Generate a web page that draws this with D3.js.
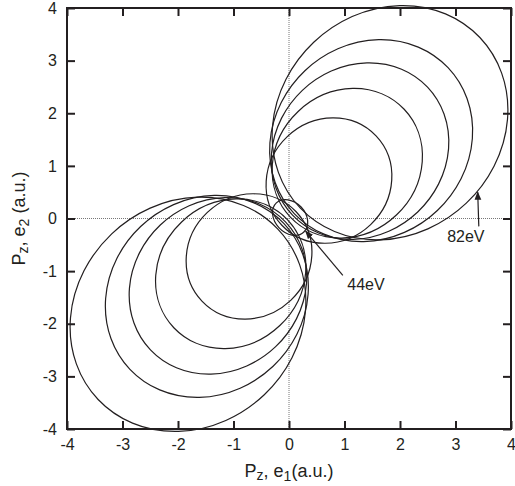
<!DOCTYPE html>
<html>
<head>
<meta charset="utf-8">
<script src="https://cdn.jsdelivr.net/npm/d3@7.9.0/dist/d3.min.js"></script>
<style>
  body { margin: 0; background: #fff; }
  text { font-family: "Liberation Sans", Arial, sans-serif; fill: #231f20; }
</style>
</head>
<body>
<svg id="chart" width="515" height="486"></svg>
<script>
// axis ticks
const xTicks = [-4, -3, -2, -1, 0, 1, 2, 3, 4];
const yTicks = [-4, -3, -2, -1, 0, 1, 2, 3, 4];

// ellipse centres on the diagonal (upper-right branch, lower-left is mirrored)
const centres = [0.02, 0.72, 1.05, 1.28, 1.48, 1.82];
// semi-axis along the (1,1) diagonal and across it
const alongAxis = [0.28, 1.20, 1.45, 1.72, 1.96, 2.29];
const acrossAxis = [0.37, 1.12, 1.32, 1.55, 1.78, 2.05];
const energyLabels = ['44eV', '', '', '', '', '82eV'];

const width = 515, height = 486;
const margin = { top: 8, right: 4, bottom: 57, left: 67 };

const svg = d3.select('#chart');
const x = d3.scaleLinear().domain([-4, 4]).range([margin.left, width - margin.right]);
const y = d3.scaleLinear().domain([-4, 4]).range([height - margin.bottom, margin.top]);

// zero lines
svg.append('line')
  .attr('x1', x(0)).attr('x2', x(0)).attr('y1', y(4)).attr('y2', y(-4))
  .attr('stroke', '#777').attr('stroke-width', 1).attr('stroke-dasharray', '1,1');
svg.append('line')
  .attr('x1', x(-4)).attr('x2', x(4)).attr('y1', y(0)).attr('y2', y(0))
  .attr('stroke', '#777').attr('stroke-width', 1).attr('stroke-dasharray', '1,1');

// ellipses
let curves = [];
centres.forEach((c, i) => {
  curves.push({ c: c, a: alongAxis[i], b: acrossAxis[i] });
  if (i > 0) curves.push({ c: -c, a: alongAxis[i], b: acrossAxis[i] });
});

const ang = Math.atan2(y(1) - y(0), x(1) - x(0)) * 180 / Math.PI;
const diagPx = Math.hypot(x(1) - x(0), y(0) - y(1)) / Math.SQRT2;

const plot = svg.append('g');
plot.selectAll('ellipse')
  .data(curves)
  .join('ellipse')
  .attr('transform', (d) => `translate(${x(d.c)},${y(d.c)}) rotate(${ang})`)
  .attr('rx', (d) => d.a * diagPx)
  .attr('ry', (d) => d.b * diagPx)
  .attr('fill', 'none')
  .attr('stroke', '#231f20')
  .attr('stroke-width', 1.2);

// frame
svg.append('rect')
  .attr('x', x(-4)).attr('y', y(4))
  .attr('width', x(4) - x(-4)).attr('height', y(-4) - y(4))
  .attr('fill', 'none').attr('stroke', '#231f20').attr('stroke-width', 2);

// inward ticks on all sides
const tickLen = 8;
const axisBottom = d3.axisBottom(x).tickValues(xTicks).tickSize(-tickLen).tickPadding(10);
const axisTop = d3.axisTop(x).tickValues(xTicks).tickSize(-tickLen);
const axisLeft = d3.axisLeft(y).tickValues(yTicks).tickSize(-tickLen).tickPadding(10);
const axisRight = d3.axisRight(y).tickValues(yTicks).tickSize(-tickLen);

function styleAxis(g, withLabels) {
  g.select('.domain').remove();
  g.selectAll('.tick line').attr('stroke', '#231f20').attr('stroke-width', 2);
  if (!withLabels) {
    g.selectAll('.tick text').remove();
    return;
  }
  g.selectAll('.tick text')
    .attr('font-size', 16)
    .attr('font-family', '"Liberation Sans", Arial, sans-serif')
    .attr('fill', '#231f20')
    .text((d) => (d < 0 ? '-' + Math.abs(d) : d));
}

svg.append('g').attr('transform', `translate(0,${y(-4)})`).call(axisBottom).call(styleAxis, true);
svg.append('g').attr('transform', `translate(0,${y(4)})`).call(axisTop).call(styleAxis, false);
svg.append('g').attr('transform', `translate(${x(-4)},0)`).call(axisLeft).call(styleAxis, true);
svg.append('g').attr('transform', `translate(${x(4)},0)`).call(axisRight).call(styleAxis, false);

// axis titles
const xTitle = svg.append('text')
  .attr('x', x(0)).attr('y', 477)
  .attr('text-anchor', 'middle').attr('font-size', 18);
xTitle.append('tspan').text('P');
xTitle.append('tspan').attr('font-size', 14).attr('dy', 3).text('z');
xTitle.append('tspan').attr('dy', -3).text(', e');
xTitle.append('tspan').attr('font-size', 14).attr('dy', 4).text('1');
xTitle.append('tspan').attr('dy', -4).text('(a.u.)');

const yTitle = svg.append('text')
  .attr('transform', `translate(25,${y(0)}) rotate(-90)`)
  .attr('text-anchor', 'middle').attr('font-size', 18);
yTitle.append('tspan').text('P');
yTitle.append('tspan').attr('font-size', 14).attr('dy', 3).text('z');
yTitle.append('tspan').attr('dy', -3).text(', e');
yTitle.append('tspan').attr('font-size', 14).attr('dy', 4).text('2');
yTitle.append('tspan').attr('dy', -4).text(' (a.u.)');

// energy annotations with arrows
svg.append('defs').append('marker')
  .attr('id', 'arrow').attr('viewBox', '0 0 10 10')
  .attr('refX', 9).attr('refY', 5)
  .attr('markerWidth', 7).attr('markerHeight', 7)
  .attr('orient', 'auto')
  .append('path').attr('d', 'M0,1 L10,5 L0,9 Z').attr('fill', '#231f20');

const notes = [
  { label: energyLabels[0], tip: [0.3, -0.24], tail: [0.97, -1.08], text: [1.05, -1.36] },
  { label: energyLabels[5], tip: [3.4, 0.5], tail: [3.42, -0.15], text: [2.85, -0.45] },
];
notes.forEach((n) => {
  svg.append('line')
    .attr('x1', x(n.tail[0])).attr('y1', y(n.tail[1]))
    .attr('x2', x(n.tip[0])).attr('y2', y(n.tip[1]))
    .attr('stroke', '#231f20').attr('stroke-width', 1.2)
    .attr('marker-end', 'url(#arrow)');
  svg.append('text')
    .attr('x', x(n.text[0])).attr('y', y(n.text[1]))
    .attr('font-size', 16)
    .text(n.label);
});
</script>
</body>
</html>
